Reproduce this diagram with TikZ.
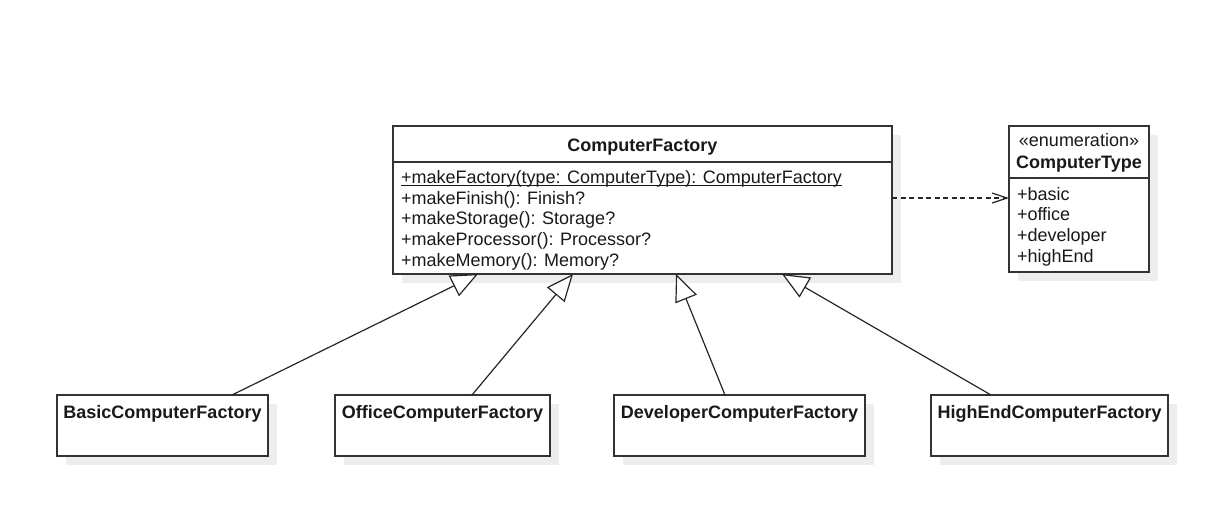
\documentclass[tikz,border=0pt]{standalone}
\usepackage{fontspec}
\setmainfont{Liberation Sans}
\usetikzlibrary{arrows.meta,shadows,calc}
\begin{document}
\begin{tikzpicture}[x=1pt,y=-1pt,
  umlbox/.style={draw=black!80, line width=1.3pt, fill=white, inner sep=0pt, outer sep=0pt, anchor=north west,
    drop shadow={shadow xshift=9pt, shadow yshift=-9pt, fill=black!7, opacity=1}},
  divider/.style={draw=black!80, line width=1.3pt},
  txt/.style={inner sep=0pt, outer sep=0pt, font=\fontsize{18}{20.7}\selectfont, text=black!90},
  btxt/.style={txt, font=\fontsize{18}{20.7}\selectfont\bfseries, anchor=base},
  mem/.style={txt, anchor=base west},
  gen/.style={line width=1.2pt, draw=black!85, -{Triangle[length=27pt,width=23pt,fill=white,line width=1.2pt]}},
  dep/.style={line width=1.2pt, draw=black!85, dash pattern=on 5pt off 3.5pt, -{Straight Barb[length=15pt,width=10pt]}}
]
\useasboundingbox (0,0) rectangle (1224,512);

% ComputerFactory
\node[umlbox, minimum width=499pt, minimum height=148pt] (cf) at (393,126) {};
\draw[divider] ([yshift=-36pt]cf.north west) -- ([yshift=-36pt]cf.north east);
\node[btxt] (cft) at (642.5,151) {ComputerFactory};
\node[mem] (m1) at (401,183.3) {+makeFactory(type: ComputerType): ComputerFactory};
\draw[line width=1pt, black!90] ([yshift=-2.6pt]m1.base west) -- ([yshift=-2.6pt]m1.base east);
\node[mem] (m2) at (401,204) {+makeFinish(): Finish?};
\node[mem] (m3) at (401,224.7) {+makeStorage(): Storage?};
\node[mem] (m4) at (401,245.4) {+makeProcessor(): Processor?};
\node[mem] (m5) at (401,266.1) {+makeMemory(): Memory?};

% ComputerType
\node[umlbox, minimum width=140pt, minimum height=146pt] (ct) at (1009,126) {};
\draw[divider] ([yshift=-52pt]ct.north west) -- ([yshift=-52pt]ct.north east);
\node[txt, anchor=base] (cts) at (1079,146.7) {«enumeration»};
\node[btxt] (ctn) at (1079,168.3) {ComputerType};
\node[mem] (e1) at (1017,200) {+basic};
\node[mem] (e2) at (1017,220.7) {+office};
\node[mem] (e3) at (1017,241.4) {+developer};
\node[mem] (e4) at (1017,262.1) {+highEnd};

% Subclasses
\node[umlbox, minimum width=211pt, minimum height=61pt] (basic) at (57,395) {};
\node[btxt] (basict) at (162.5,418.3) {BasicComputerFactory};
\node[umlbox, minimum width=215pt, minimum height=61pt] (office) at (335,395) {};
\node[btxt] (officet) at (442.5,418.3) {OfficeComputerFactory};
\node[umlbox, minimum width=251pt, minimum height=61pt] (dev) at (614,395) {};
\node[btxt] (devt) at (739.5,418.3) {DeveloperComputerFactory};
\node[umlbox, minimum width=237pt, minimum height=61pt] (high) at (931,395) {};
\node[btxt] (hight) at (1049.5,418.3) {HighEndComputerFactory};

% Connectors
\draw[gen] ([xshift=175pt]basic.north west) -- ([xshift=85pt]cf.south west);
\draw[gen] ([xshift=137pt]office.north west) -- ([xshift=180pt]cf.south west);
\draw[gen] ([xshift=111pt]dev.north west) -- ([xshift=283pt]cf.south west);
\draw[gen] ([xshift=60pt]high.north west) -- ([xshift=389pt]cf.south west);
\draw[dep] ([yshift=2pt]cf.east) -- ([yshift=2pt]cf.east -| ct.west);
\end{tikzpicture}
\end{document}
